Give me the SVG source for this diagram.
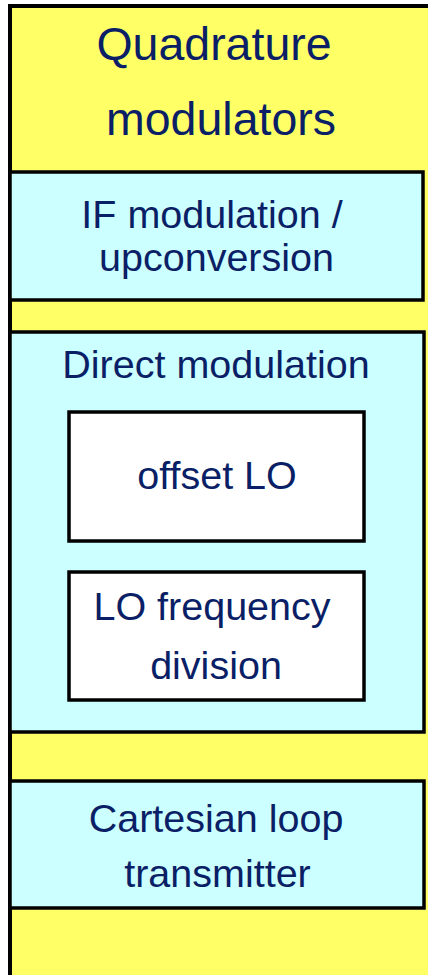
<svg xmlns="http://www.w3.org/2000/svg" width="428" height="975" viewBox="0 0 428 975">
  <style>
    .frame { fill: #FFFF66; stroke: #000; stroke-width: 4; }
    .band { fill: #CCFFFF; stroke: #000; stroke-width: 3.5; }
    .inner { fill: #FFFFFF; stroke: #000; stroke-width: 3.5; }
    text { font-family: "Liberation Sans", Arial, sans-serif; fill: #0A1F66; text-anchor: middle; font-size: 39.5px; }
    .title { font-size: 46.5px; }
  </style>
  <g id="quadrature-modulators">
    <rect class="frame" x="10" y="6" width="440" height="990"/>
    <text class="title" x="214" y="60">Quadrature</text>
    <text class="title" x="221" y="135">modulators</text>
  </g>
  <g id="if-modulation">
    <rect class="band" x="10" y="172" width="413" height="128"/>
    <text x="212" y="228">IF modulation /</text>
    <text x="216.5" y="271">upconversion</text>
  </g>
  <g id="direct-modulation">
    <rect class="band" x="10" y="332" width="414" height="400"/>
    <text x="216" y="378">Direct modulation</text>
  </g>
  <g id="offset-lo">
    <rect class="inner" x="69" y="412" width="295" height="129"/>
    <text x="217" y="489">offset LO</text>
  </g>
  <g id="lo-frequency-division">
    <rect class="inner" x="69" y="572" width="295" height="128"/>
    <text x="212" y="620">LO frequency</text>
    <text x="216" y="679">division</text>
  </g>
  <g id="cartesian-loop">
    <rect class="band" x="10" y="781" width="414" height="127"/>
    <text x="216" y="832">Cartesian loop</text>
    <text x="217.5" y="887">transmitter</text>
  </g>
  <g id="connectors"/>
</svg>
